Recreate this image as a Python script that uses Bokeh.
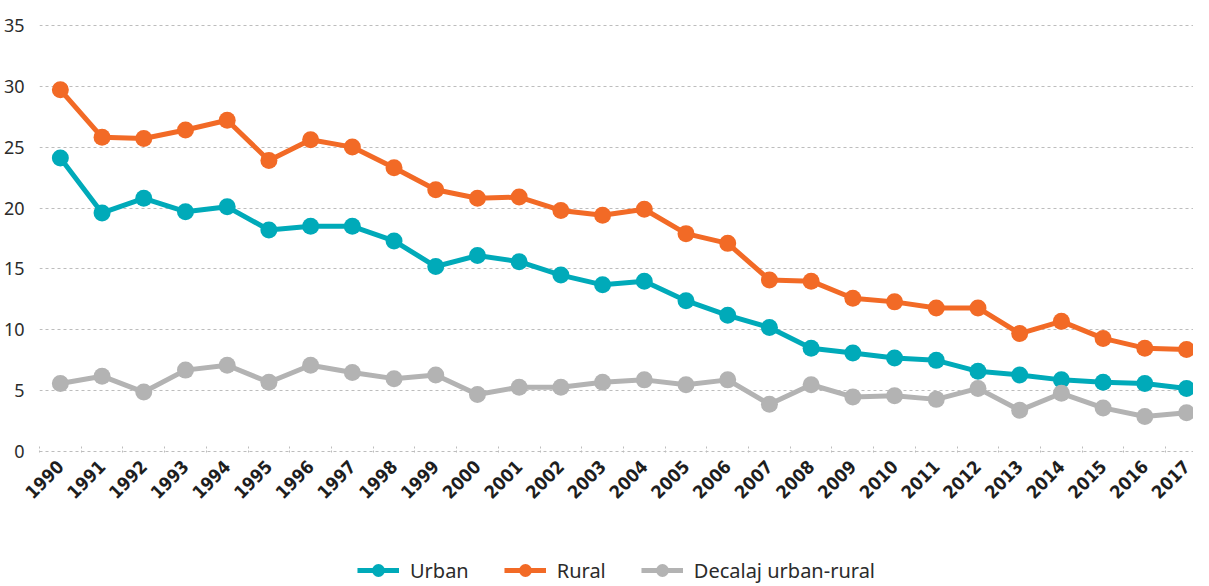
from math import pi
from bokeh.plotting import figure
from bokeh.layouts import column
from bokeh.models import Range1d, FixedTicker, Legend, LegendItem, ColumnDataSource
from bokeh.embed import file_html
from bokeh.resources import INLINE

years = list(range(1990, 2018))
year_labels = [str(y) for y in years]
urban = [24.1, 19.6, 20.8, 19.7, 20.1, 18.2, 18.5, 18.5, 17.3, 15.2,
         16.1, 15.6, 14.5, 13.7, 14.0, 12.4, 11.2, 10.2, 8.5, 8.1,
         7.7, 7.5, 6.6, 6.3, 5.9, 5.7, 5.6, 5.2]
rural = [29.7, 25.8, 25.7, 26.4, 27.2, 23.9, 25.6, 25.0, 23.3, 21.5,
         20.8, 20.9, 19.8, 19.4, 19.9, 17.9, 17.1, 14.1, 14.0, 12.6,
         12.3, 11.8, 11.8, 9.7, 10.7, 9.3, 8.5, 8.4]
gap = [5.6, 6.2, 4.9, 6.7, 7.1, 5.7, 7.1, 6.5, 6.0, 6.3,
       4.7, 5.3, 5.3, 5.7, 5.9, 5.5, 5.9, 3.9, 5.5, 4.5,
       4.6, 4.3, 5.2, 3.4, 4.8, 3.6, 2.9, 3.2]
y_ticks = [0, 5, 10, 15, 20, 25, 30, 35]
series_names = ["Urban", "Rural", "Decalaj urban-rural"]
series_colors = ["#00AAB9", "#F26A26", "#B3B3B3"]
series_cols = ["urban", "rural", "gap"]

src = ColumnDataSource(dict(year=years, urban=urban, rural=rural, gap=gap))

p = figure(width=1193, height=545, output_backend="svg", toolbar_location=None,
           x_range=Range1d(1989.5, 2017.167), y_range=Range1d(-0.06, 35.06),
           min_border_left=31, min_border_right=0, min_border_top=24,
           min_border_bottom=93)
p.outline_line_color = None
p.background_fill_color = "white"
p.border_fill_color = "white"

# grid
p.xgrid.grid_line_color = None
p.ygrid.grid_line_color = "#BDBDBD"
p.ygrid.grid_line_dash = "3 3"
p.ygrid.grid_line_width = 1

# y axis
p.yaxis.ticker = FixedTicker(ticks=y_ticks)
p.yaxis.axis_line_color = None
p.yaxis.major_tick_line_color = None
p.yaxis.minor_tick_line_color = None
p.yaxis.major_label_standoff = 9
p.yaxis.major_label_text_font = "Noto Sans"
p.yaxis.major_label_text_font_size = "18px"
p.yaxis.major_label_text_color = "#2b2b2b"

# x axis
p.xaxis.ticker = FixedTicker(ticks=years, minor_ticks=[y - 0.5 for y in years])
p.xaxis.major_label_overrides = {y: lab for y, lab in zip(years, year_labels)}
p.xaxis.axis_line_color = None
p.xaxis.major_tick_line_color = None
p.xaxis.major_tick_in = 0
p.xaxis.major_tick_out = 0
p.xaxis.minor_tick_in = 8
p.xaxis.minor_tick_out = 0
p.xaxis.minor_tick_line_color = "#BDBDBD"
p.xaxis.minor_tick_line_dash = "2 2"
p.xaxis.major_label_orientation = pi / 4
p.xaxis.major_label_standoff = 11
p.xaxis.major_label_text_font = "DejaVu Sans Condensed"
p.xaxis.major_label_text_font_style = "bold"
p.xaxis.major_label_text_font_size = "18px"
p.xaxis.major_label_text_color = "#1e1e1e"

for col, color in zip(series_cols, series_colors):
    p.line("year", col, source=src, line_color=color, line_width=5)
    p.scatter("year", col, source=src, size=17, fill_color=color,
              line_color=color, line_width=0)

# legend strip below the chart (its renderers lie outside its ranges)
lg = figure(width=1193, height=41, output_backend="svg", toolbar_location=None,
            x_range=Range1d(0, 1), y_range=Range1d(0, 1),
            min_border_left=0, min_border_right=0, min_border_top=0,
            min_border_bottom=0)
lg.axis.visible = False
lg.grid.visible = False
lg.outline_line_color = None
lg.background_fill_color = "white"
lg.border_fill_color = "white"

items = []
for col, name, color in zip(series_cols, series_names, series_colors):
    ln = lg.line("year", col, source=src, line_color=color, line_width=5)
    sc = lg.scatter("year", col, source=src, size=17, fill_color=color,
                    line_color=color, line_width=0)
    items.append(LegendItem(label=name, renderers=[ln, sc]))

legend = Legend(items=items, orientation="horizontal", location="bottom_center",
                border_line_color=None, background_fill_alpha=0,
                padding=0, margin=0, spacing=35, label_standoff=11,
                glyph_width=42, glyph_height=32, label_height=32,
                label_text_font="Noto Sans", label_text_font_size="20px",
                label_text_color="#2b2b2b")
lg.add_layout(legend, "center")

layout = column(p, lg, spacing=0)
open("out.html", "w").write(file_html(layout, INLINE))
